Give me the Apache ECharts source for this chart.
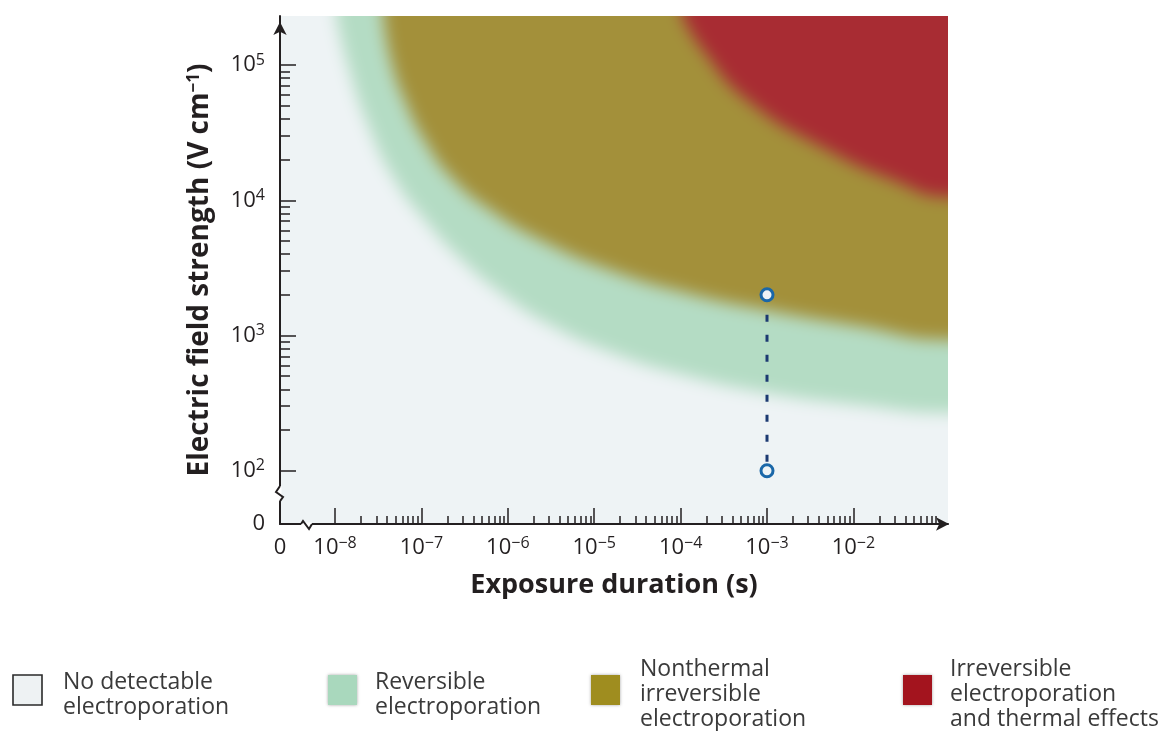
<!DOCTYPE html>
<html>
<head>
<meta charset="utf-8">
<title>Electroporation regimes</title>
<script src="https://cdn.jsdelivr.net/npm/echarts@6/dist/echarts.min.js"></script>
<style>
  html, body { margin: 0; padding: 0; background: #fff; }
  #stage { position: relative; width: 1158px; height: 731px; overflow: hidden; }
  #regionClip { position: absolute; overflow: hidden; }
  #regions { position: absolute; filter: blur(8px); }
  #chart { position: absolute; left: 0; top: 0; width: 1158px; height: 731px; }
</style>
</head>
<body>
<div id="stage">
  <div id="regionClip"><div id="regions"></div></div>
  <div id="chart"></div>
</div>
<script>
// ---- axis extents (powers of ten) ----
const durationRangeExp = [-8.637, -0.905];   // log10(s)
const fieldRangeExp = [1.606, 5.363];        // log10(V/cm)
const durationDecades = [-8, -7, -6, -5, -4, -3, -2];
const fieldDecades = [2, 3, 4, 5];
const durationMinorDecades = [-8, -7, -6, -5, -4, -3, -2];
const fieldMinorDecades = [2, 3, 4];
const durationBreakExp = -8.336;
const fieldBreakExp = 1.835;

// ---- region boundaries: exposure duration (s) vs field strength (V/cm) ----
const reversibleDuration = [1.03e-8, 1.41e-8, 2.41e-8, 4.94e-8, 1.10e-7, 2.8e-7, 8.1e-7, 3.08e-6, 1.52e-5, 9.8e-5, 1.0e-3, 1.19e-2, 0.124];
const reversibleField    = [2.31e5, 1.0e5, 3.6e4, 1.41e4, 7.15e3, 3.74e3, 2.1e3, 1.2e3, 755, 519, 376, 306, 267];

const irreversibleDuration = [3.6e-8, 4.45e-8, 6.46e-8, 1.10e-7, 2.26e-7, 6.2e-7, 2.36e-6, 1.52e-5, 1.29e-4, 1.0e-3, 1.19e-2, 0.124];
const irreversibleField    = [2.31e5, 1.07e5, 5.4e4, 2.75e4, 1.46e4, 8.5e3, 5.1e3, 3.05e3, 2.03e3, 1.54e3, 1.17e3, 927];

const thermalDuration = [1.04e-4, 1.82e-4, 5.87e-4, 4.94e-3, 2.87e-2, 0.124];
const thermalField    = [2.31e5, 1.29e5, 5.52e4, 2.36e4, 1.41e4, 1.06e4];

// ---- pulse protocol shown on the map ----
const pulseDuration = [1e-3, 1e-3];
const pulseField = [2000, 100];

// ---- legend ----
const legendLabels = [
  'No detectable\nelectroporation',
  'Reversible\nelectroporation',
  'Nonthermal\nirreversible\nelectroporation',
  'Irreversible\nelectroporation\nand thermal effects'
];
const regionColors = ['#eef3f5', '#b4dcc4', '#a3903a', '#a82c33'];
const legendSwatch = ['#eef2f3', '#a9d8bd', '#9f8d1f', '#a3141e'];

// ---- layout ----
const GRID = { left: 280, top: 16, width: 668, height: 508 };
const PAD = 40;
const FONT = '"Open Sans", "Noto Sans", sans-serif';
const INK = '#231f20';

const xPerPx = (durationRangeExp[1] - durationRangeExp[0]) / GRID.width;
const yPerPx = (fieldRangeExp[1] - fieldRangeExp[0]) / GRID.height;
const xPadded = [durationRangeExp[0] - PAD * xPerPx, durationRangeExp[1] + PAD * xPerPx];
const yPadded = [fieldRangeExp[0] - PAD * yPerPx, fieldRangeExp[1] + PAD * yPerPx];

// ---- soft-edged regions (blurred layer underneath the axes) ----
const clip = document.getElementById('regionClip');
clip.style.left = GRID.left + 'px';
clip.style.top = GRID.top + 'px';
clip.style.width = GRID.width + 'px';
clip.style.height = GRID.height + 'px';
const regionsEl = document.getElementById('regions');
regionsEl.style.left = -PAD + 'px';
regionsEl.style.top = -PAD + 'px';
regionsEl.style.width = (GRID.width + 2 * PAD) + 'px';
regionsEl.style.height = (GRID.height + 2 * PAD) + 'px';

function boundary(durations, fields) {
  const pts = durations.map((d, i) => [Math.log10(d), Math.log10(fields[i])]);
  // carry the edge level across the padding strip so the blur does not fade at the frame
  const last = pts[pts.length - 1];
  pts.push([xPadded[1], last[1]]);
  return pts;
}

function regionSeries(name, data, color) {
  return {
    name, type: 'line', data, smooth: 0.5, symbol: 'none', silent: true,
    lineStyle: { width: 0 },
    areaStyle: { color, opacity: 1, origin: 'end' }
  };
}

const regionChart = echarts.init(regionsEl, null, { renderer: 'canvas' });
regionChart.setOption({
  animation: false,
  backgroundColor: regionColors[0],
  grid: { left: 0, right: 0, top: 0, bottom: 0, outerBoundsMode: 'none' },
  xAxis: { type: 'value', min: xPadded[0], max: xPadded[1], show: false },
  yAxis: { type: 'value', min: yPadded[0], max: yPadded[1], show: false },
  series: [
    regionSeries(legendLabels[1], boundary(reversibleDuration, reversibleField), regionColors[1]),
    regionSeries(legendLabels[2], boundary(irreversibleDuration, irreversibleField), regionColors[2]),
    regionSeries(legendLabels[3], boundary(thermalDuration, thermalField), regionColors[3])
  ]
});

// ---- axes, pulse marker, legend ----
function minorTicks(decades) {
  const out = [];
  decades.forEach(e => { for (let k = 2; k <= 9; k++) out.push(e + Math.log10(k)); });
  return out;
}

const supRich = {
  s: { fontSize: 16, fontFamily: FONT, color: INK, lineHeight: 16, verticalAlign: 'top' }
};
function powerLabel(min) {
  return v => {
    if (Math.abs(v - min) < 1e-6) return '0';
    const e = Math.round(v);
    return '10{s|' + (e < 0 ? '\u2212' + (-e) : String(e)) + '}';
  };
}

const axisLineStyle = { color: INK, width: 2 };
const tickStyle = { color: INK, width: 1.5 };
const labelBase = { fontSize: 22, fontFamily: FONT, color: INK, lineHeight: 26 };

const chart = echarts.init(document.getElementById('chart'), null, { renderer: 'canvas' });
chart.setOption({
  animation: false,
  grid: Object.assign({ outerBoundsMode: 'none' }, GRID),
  xAxis: [
    {
      type: 'value', min: durationRangeExp[0], max: durationRangeExp[1], position: 'bottom',
      axisLine: { show: true, lineStyle: axisLineStyle, symbol: ['none', 'arrow'], symbolSize: [10, 13], symbolOffset: [0, 1] },
      axisTick: { show: true, inside: true, length: 16, lineStyle: tickStyle, customValues: durationDecades },
      axisLabel: Object.assign({ show: true, customValues: [durationRangeExp[0]].concat(durationDecades), formatter: powerLabel(durationRangeExp[0]), rich: supRich, margin: 11 }, labelBase),
      splitLine: { show: false },
      name: 'Exposure duration (s)', nameLocation: 'middle', nameGap: 48,
      nameTextStyle: { fontSize: 27, fontWeight: 'bold', color: INK, fontFamily: FONT }
    },
    {
      type: 'value', min: durationRangeExp[0], max: durationRangeExp[1], position: 'bottom',
      axisLine: { show: false },
      axisTick: { show: true, inside: true, length: 8, lineStyle: tickStyle, customValues: minorTicks(durationMinorDecades) },
      axisLabel: { show: false }, splitLine: { show: false }
    }
  ],
  yAxis: [
    {
      type: 'value', min: fieldRangeExp[0], max: fieldRangeExp[1], position: 'left',
      axisLine: { show: true, lineStyle: axisLineStyle, symbol: ['none', 'arrow'], symbolSize: [10, 13], symbolOffset: [0, -6] },
      axisTick: { show: true, inside: true, length: 16, lineStyle: tickStyle, customValues: fieldDecades },
      axisLabel: Object.assign({ show: true, customValues: [fieldRangeExp[0]].concat(fieldDecades), formatter: powerLabel(fieldRangeExp[0]), rich: supRich, margin: 15 }, labelBase),
      splitLine: { show: false },
      name: 'Electric field strength (V cm{s|\u22121})', nameLocation: 'middle', nameGap: 66,
      nameTextStyle: {
        fontSize: 28, fontWeight: 'bold', color: INK, fontFamily: FONT,
        rich: { s: { fontSize: 17, fontWeight: 'bold', color: INK, fontFamily: FONT, verticalAlign: 'top', lineHeight: 17 } }
      }
    },
    {
      type: 'value', min: fieldRangeExp[0], max: fieldRangeExp[1], position: 'left',
      axisLine: { show: false },
      axisTick: { show: true, inside: true, length: 10, lineStyle: tickStyle, customValues: minorTicks(fieldMinorDecades) },
      axisLabel: { show: false }, splitLine: { show: false }
    }
  ],
  series: [
    {
      type: 'line', xAxisIndex: 0, yAxisIndex: 0, z: 10,
      data: pulseDuration.map((d, i) => [Math.log10(d), Math.log10(pulseField[i])]),
      lineStyle: { color: '#1c3a72', width: 3, type: [7, 13] },
      symbol: 'circle', symbolSize: 12, showSymbol: true,
      itemStyle: { color: '#eef3f5', borderColor: '#1a67a8', borderWidth: 3 }
    }
  ]
});

// axis breaks and legend, placed from the axis scales
const yBreak = chart.convertToPixel({ xAxisIndex: 0, yAxisIndex: 0 }, [durationRangeExp[0], fieldBreakExp]);
const xBreak = chart.convertToPixel({ xAxisIndex: 0, yAxisIndex: 0 }, [durationBreakExp, fieldRangeExp[0]]);

const graphics = [
  { type: 'rect', shape: { x: yBreak[0] - 1.5, y: yBreak[1] - 7, width: 3, height: 15 }, style: { fill: '#ffffff' }, z: 20 },
  { type: 'polyline', shape: { points: [[yBreak[0], yBreak[1] - 7], [yBreak[0] - 4, yBreak[1] - 1], [yBreak[0] + 3, yBreak[1] + 4], [yBreak[0], yBreak[1] + 8]] },
    style: { stroke: INK, lineWidth: 2, fill: null }, z: 21 },
  { type: 'rect', shape: { x: xBreak[0] - 5, y: xBreak[1] - 1.5, width: 11, height: 3 }, style: { fill: '#ffffff' }, z: 20 },
  { type: 'polyline', shape: { points: [[xBreak[0] - 5, xBreak[1]], [xBreak[0] - 3, xBreak[1] - 3], [xBreak[0] + 3, xBreak[1] + 5], [xBreak[0] + 6, xBreak[1]]] },
    style: { stroke: INK, lineWidth: 2, fill: null }, z: 21 }
];

const legendBoxX = [13, 328, 591, 903];
const legendTextX = [63, 375, 640, 950];
legendLabels.forEach((label, i) => {
  const lines = label.split('\n').length;
  graphics.push({
    type: 'rect', shape: { x: legendBoxX[i], y: 675, width: 29, height: 30 },
    style: {
      fill: legendSwatch[i],
      stroke: i === 0 ? '#2a2a2a' : null, lineWidth: i === 0 ? 1.6 : 0,
      shadowBlur: i === 0 ? 0 : 3, shadowColor: 'rgba(0,0,0,0.35)'
    }
  });
  graphics.push({
    type: 'text', x: legendTextX[i], y: (lines === 2 ? 695 : 694) - lines * 12.5,
    style: { text: label, fontSize: 23, fontFamily: FONT, fill: '#3a3a3a', lineHeight: 25 }
  });
});

chart.setOption({ graphic: graphics });
</script>
</body>
</html>
